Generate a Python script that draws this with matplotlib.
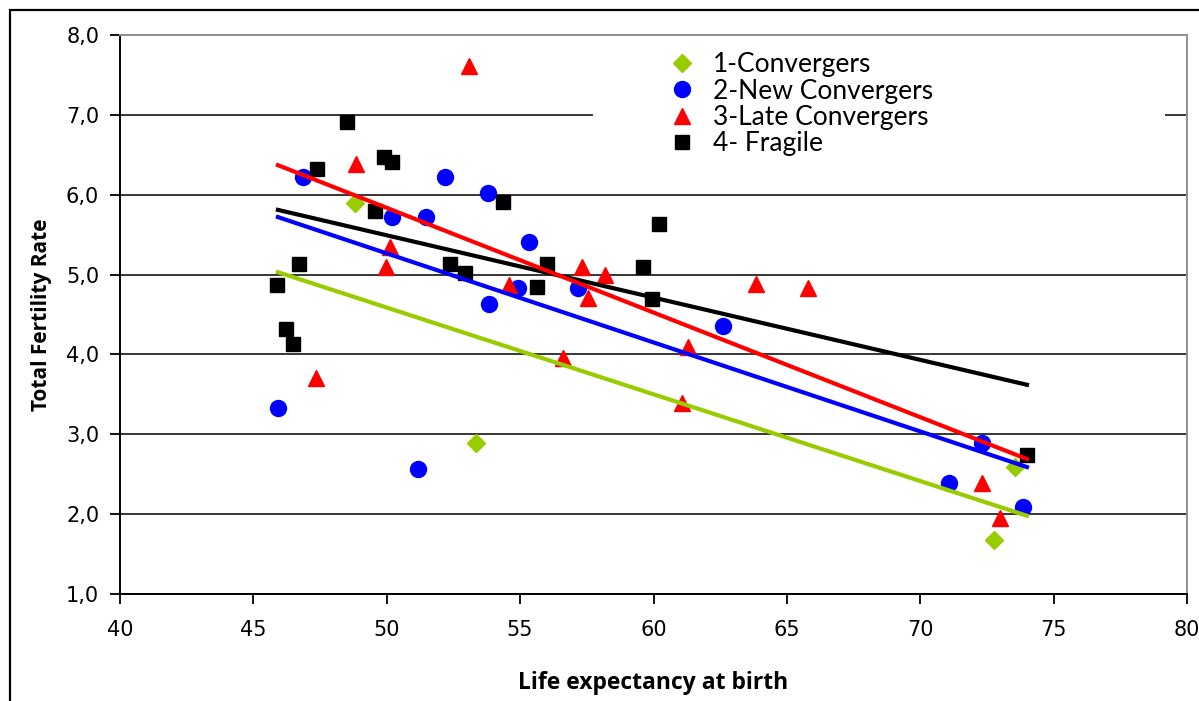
import matplotlib.pyplot as plt
from matplotlib.patches import Rectangle
from matplotlib.ticker import FuncFormatter

# Donnees
conv_x = [48.8, 53.35, 72.75, 73.55]
conv_y = [5.90, 2.89, 1.68, 2.59]

new_x = [46.86, 45.92, 50.2, 51.47, 52.18, 53.8, 55.33, 51.17, 53.83, 54.92,
         57.17, 62.6, 71.08, 72.31, 73.85]
new_y = [6.22, 3.33, 5.72, 5.72, 6.22, 6.02, 5.41, 2.57, 4.63, 4.83,
         4.83, 4.35, 2.39, 2.89, 2.09]

late_x = [53.08, 48.85, 50.12, 49.97, 47.35, 54.6, 57.32, 58.2, 57.54, 56.6,
          61.3, 61.07, 63.84, 65.79, 72.31, 72.99]
late_y = [7.61, 6.38, 5.35, 5.10, 3.70, 4.87, 5.09, 4.99, 4.71, 3.95,
          4.09, 3.39, 4.88, 4.83, 2.39, 1.95]

frag_x = [48.51, 47.38, 49.9, 50.2, 49.56, 46.71, 45.89, 46.22, 46.49, 54.36,
          52.37, 52.93, 56.0, 55.63, 59.6, 59.94, 60.2, 74.0]
frag_y = [6.91, 6.32, 6.47, 6.41, 5.80, 5.13, 4.87, 4.32, 4.13, 5.91,
          5.13, 5.02, 5.13, 4.84, 5.10, 4.69, 5.63, 2.74]

# droites de tendance (debut / fin)
trend_x = [45.92, 74.0]
conv_trend = [5.03, 1.98]
new_trend = [5.72, 2.59]
late_trend = [6.37, 2.69]
frag_trend = [5.81, 3.62]

labels = ["1-Convergers", "2-New Convergers", "3-Late Convergers", "4- Fragile"]

fig = plt.figure(figsize=(11.99, 7.01), dpi=100)
ax = fig.add_axes([120/1199, 1 - 594/701, 1067/1199, 559/701])

# cadre exterieur
fig.patches.append(Rectangle((10/1199, -0.2), 1.2, 1 - 10/701 + 0.2, transform=fig.transFigure,
                             fill=False, edgecolor="black", linewidth=1.6))

ax.set_xlim(40, 80)
ax.set_ylim(1, 8)
ax.set_xticks(range(40, 81, 5))
ax.set_yticks(range(1, 9))
ax.yaxis.set_major_formatter(FuncFormatter(lambda v, p: f"{v:.1f}".replace(".", ",")))
ax.grid(axis="y", color="black", linewidth=1.1)
ax.set_axisbelow(True)

for s in ["top", "right"]:
    ax.spines[s].set_color("#909090")
    ax.spines[s].set_linewidth(1.4)
for s in ["left", "bottom"]:
    ax.spines[s].set_linewidth(1.4)
ax.tick_params(direction="out", length=7, width=1.3, labelsize=15, pad=8)
ax.tick_params(axis="x", pad=12)

# fond blanc de la legende (coupe la grille)
ax.add_patch(Rectangle((0.4433, 6.55), 0.5361, 1.33, transform=ax.get_yaxis_transform(),
                       facecolor="white", edgecolor="none", zorder=1.5))

ax.plot(conv_x, conv_y, "D", color="#99CC00", ms=9.5, label=labels[0], zorder=3)
ax.plot(new_x, new_y, "o", color="#0000FF", ms=11.5, label=labels[1], zorder=3)
ax.plot(late_x, late_y, "^", color="#FF0000", ms=12, label=labels[2], zorder=3)
ax.plot(frag_x, frag_y, "s", color="black", ms=10, label=labels[3], zorder=3)

ax.plot(trend_x, frag_trend, color="black", lw=3, zorder=4)
ax.plot(trend_x, late_trend, color="#FF0000", lw=3, zorder=4)
ax.plot(trend_x, new_trend, color="#0000FF", lw=3, zorder=4)
ax.plot(trend_x, conv_trend, color="#99CC00", lw=3, zorder=4)

ax.legend(loc="upper left", bbox_to_anchor=(656/1199, 1 - 39/701), bbox_transform=fig.transFigure,
          frameon=False, borderpad=0, handlelength=1.0, handletextpad=0.67, labelspacing=0.05,
          prop={"family": "Lato", "size": 19})

ax.set_xlabel("Life expectancy at birth", family="Open Sans", weight="bold", fontsize=16.5, labelpad=22)
ax.set_ylabel("Total Fertility Rate", family="Open Sans", weight="bold", fontsize=15, labelpad=10)

plt.savefig("out.png", dpi=100)
